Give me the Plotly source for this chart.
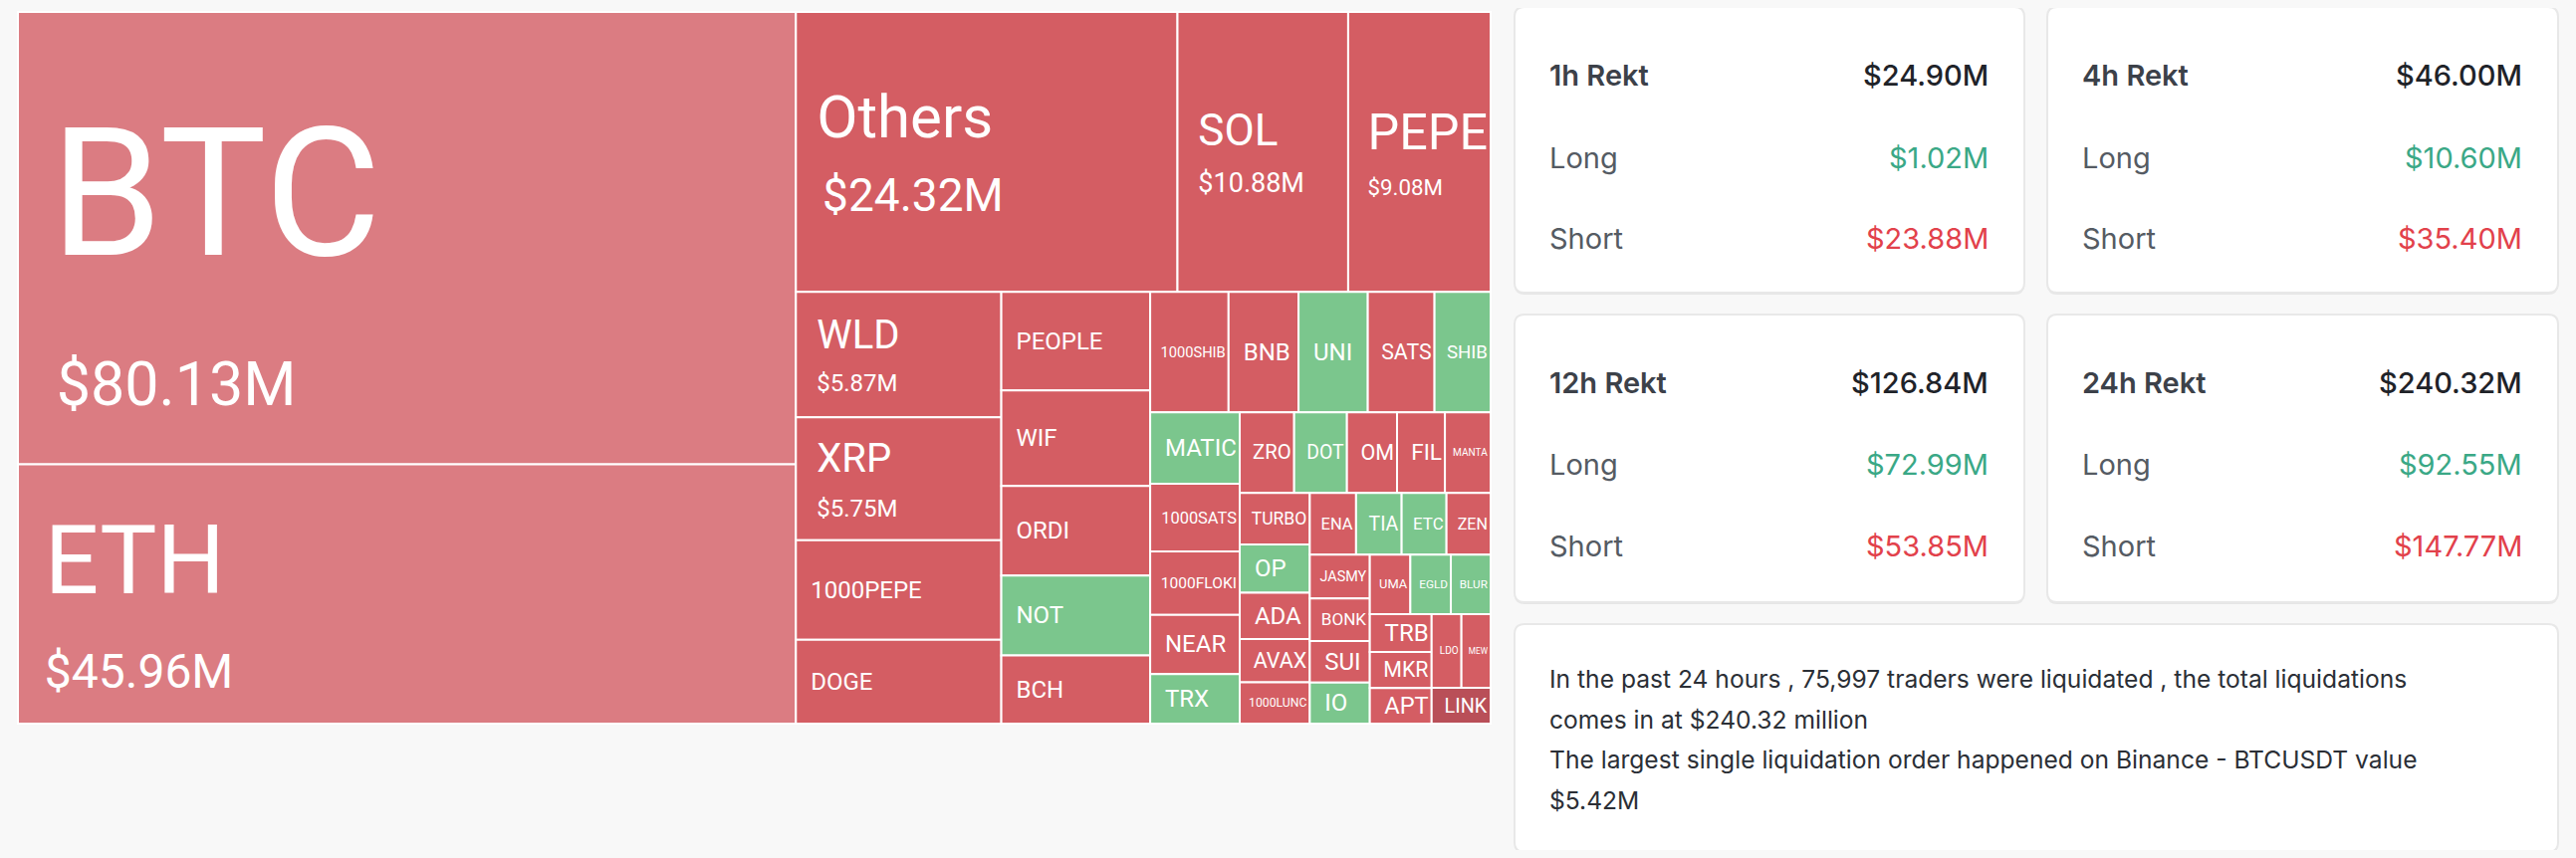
import plotly.graph_objects as go

W, H = 2587, 862
OFF = 8  # default page body margin
FW, FH = W - 2 * OFF, H - 2 * OFF

# ---------------- data ----------------
symbols = [
    "BTC", "ETH", "Others", "SOL", "PEPE", "WLD", "XRP", "1000PEPE", "DOGE",
    "PEOPLE", "WIF", "ORDI", "NOT", "BCH",
    "1000SHIB", "BNB", "UNI", "SATS", "SHIB",
    "MATIC", "1000SATS", "1000FLOKI", "NEAR", "TRX",
    "ZRO", "DOT", "OM", "FIL", "MANTA",
    "TURBO", "OP", "ADA", "AVAX", "1000LUNC",
    "ENA", "TIA", "ETC", "ZEN",
    "JASMY", "BONK", "SUI", "IO",
    "UMA", "EGLD", "BLUR",
    "TRB", "MKR", "APT",
    "LDO", "MEW", "LINK",
]
liq_values = [
    80.13, 45.96, 24.32, 10.88, 9.08, 5.87, 5.75, 4.66, 3.92,
    3.34, 3.24, 3.04, 2.71, 2.31,
    2.15, 1.92, 1.90, 1.83, 1.54,
    1.46, 1.38, 1.29, 1.21, 1.01,
    1.00, 0.97, 0.92, 0.88, 0.84,
    0.82, 0.77, 0.74, 0.69, 0.66,
    0.65, 0.64, 0.63, 0.62,
    0.60, 0.58, 0.57, 0.56,
    0.55, 0.55, 0.54,
    0.53, 0.51, 0.50,
    0.50, 0.49, 0.48,
]
tones = [
    "light", "light", "short", "short", "short", "short", "short", "short", "short",
    "short", "short", "short", "long", "short",
    "short", "short", "long", "short", "long",
    "long", "short", "short", "short", "long",
    "short", "long", "short", "short", "short",
    "short", "long", "short", "short", "short",
    "short", "long", "long", "short",
    "short", "short", "short", "long",
    "short", "long", "long",
    "short", "short", "short",
    "short", "short", "deep",
]

periods = ["1h", "4h", "12h", "24h"]
rekt_total = [24.90, 46.00, 126.84, 240.32]
rekt_long = [1.02, 10.60, 72.99, 92.55]
rekt_short = [23.88, 35.40, 53.85, 147.77]

traders_24h = 75997
largest_exchange = "Binance"
largest_pair = "BTCUSDT"
largest_value = 5.42

# ---------------- styles ----------------
TONE_COLORS = {"light": "#db7c82", "short": "#d45d63", "long": "#7bc68d", "deep": "#b94f58"}
# name font px, value font px, base (line spacing) px, left pad px, top strut px
BIG_STYLE = {
    "BTC": (180, 61, 116, 30, 214),
    "ETH": (96, 48, 73, 22, 113),
    "Others": (60, 46, 57, 18, 0),
    "SOL": (44, 27, 36, 16, 0),
    "PEPE": (54, 24, 38, 16, 0),
    "WLD": (40, 24, 33, 16, 0),
    "XRP": (40, 24, 34, 16, 0),
}
SMALL_SIZE = 24
SMALL_PAD = 14
TM_FONT = "Roboto, 'DejaVu Sans', sans-serif"
CARD_FONT = "Inter, 'Noto Sans', sans-serif"
BG = "#f8f8f8"


def fx(x):
    return (x - OFF) / FW


def fy(y):
    return 1 - (y - OFF) / FH


def pad_span(px):
    n = max(1, round(px / 6))
    return "<span style='font-size:24px'>" + "\u00a0" * n + "</span>"


texts, base_sizes = [], []
for sym, val in zip(symbols, liq_values):
    if sym in BIG_STYLE:
        ns, vs, base, pad, strut = BIG_STYLE[sym]
        strut_span = f"<span style='font-size:{strut}px'>\u00a0</span>" if strut else ""
        texts.append(
            f"{pad_span(pad)}<span style='font-size:{ns}px'>{sym}</span>{strut_span}<br>"
            f"{pad_span(pad + 4)}<span style='font-size:{vs}px'>${val:.2f}M</span>"
        )
        base_sizes.append(base)
    else:
        texts.append(f"{pad_span(SMALL_PAD)}{sym}")
        base_sizes.append(SMALL_SIZE)

fig = go.Figure()
fig.add_trace(go.Treemap(
    labels=symbols,
    parents=[""] * len(symbols),
    values=liq_values,
    text=texts,
    textinfo="text",
    textposition="middle left",
    textfont=dict(family=TM_FONT, color="white", size=base_sizes),
    marker=dict(colors=[TONE_COLORS[t] for t in tones],
                line=dict(color="white", width=2),
                pad=dict(t=0, l=0, r=0, b=0)),
    tiling=dict(packing="squarify", squarifyratio=1.618, pad=0),
    sort=False,
    pathbar=dict(visible=False),
    hoverinfo="skip",
    domain=dict(x=[fx(18), fx(1497)], y=[fy(727), fy(12)]),
))


# ---------------- cards ----------------
def rounded(x0, y0, x1, y1, r):
    rx, ry = r / FW, r / FH
    X0, X1, Y0, Y1 = fx(x0), fx(x1), fy(y0), fy(y1)
    return (f"M {X0 + rx},{Y0} L {X1 - rx},{Y0} Q {X1},{Y0} {X1},{Y0 - ry} "
            f"L {X1},{Y1 + ry} Q {X1},{Y1} {X1 - rx},{Y1} L {X0 + rx},{Y1} "
            f"Q {X0},{Y1} {X0},{Y1 + ry} L {X0},{Y0 - ry} Q {X0},{Y0} {X0 + rx},{Y0} Z")


card_boxes = [(1521, 7, 2033, 294), (2056, 7, 2569, 294),
              (1521, 316, 2033, 605), (2056, 316, 2569, 605)]
text_box = (1521, 627, 2569, 856)

shapes = []
for (x0, y0, x1, y1) in card_boxes + [text_box]:
    shapes.append(dict(type="path", path=rounded(x0, y0 + 2, x1, y1 + 2, 10), xref="paper", yref="paper",
                       fillcolor="#e6e6e6", line=dict(width=0), layer="below"))
    shapes.append(dict(type="path", path=rounded(x0, y0, x1, y1, 10), xref="paper", yref="paper",
                       fillcolor="white", line=dict(color="#e8e8e8", width=2), layer="below"))

annotations = []
TITLE_C, LABEL_C, TOTAL_C, LONG_C, SHORT_C = "#3c4149", "#555b63", "#1f2329", "#3aa886", "#e2414b"
row_off = [68, 151, 232]
for i, p in enumerate(periods):
    x0, y0, x1, y1 = card_boxes[i]
    rows = [
        (f"{p} Rekt", TITLE_C, 600, f"${rekt_total[i]:.2f}M", TOTAL_C, 500),
        ("Long", LABEL_C, 400, f"${rekt_long[i]:.2f}M", LONG_C, 400),
        ("Short", LABEL_C, 400, f"${rekt_short[i]:.2f}M", SHORT_C, 400),
    ]
    for (lab, lc, lw, val, vc, vw), off in zip(rows, row_off):
        annotations.append(dict(x=fx(x0 + 33), y=fy(y0 + off), xref="paper", yref="paper",
                                text=lab, showarrow=False, xanchor="left", yanchor="middle",
                                font=dict(family=CARD_FONT, size=29, color=lc, weight=lw)))
        annotations.append(dict(x=fx(x1 - 34), y=fy(y0 + off), xref="paper", yref="paper",
                                text=val, showarrow=False, xanchor="right", yanchor="middle",
                                font=dict(family=CARD_FONT, size=29, color=vc, weight=vw)))

para_lines = [
    f"In the past 24 hours , {traders_24h:,} traders were liquidated , the total liquidations",
    f"comes in at ${rekt_total[-1]:.2f} million",
    f"The largest single liquidation order happened on {largest_exchange} - {largest_pair} value",
    f"${largest_value:.2f}M",
]
for k, line in enumerate(para_lines):
    annotations.append(dict(x=fx(text_box[0] + 33), y=fy(682 + 40.7 * k), xref="paper", yref="paper",
                            text=line, showarrow=False, xanchor="left", yanchor="middle",
                            font=dict(family=CARD_FONT, size=24.6, color="#2b2f36")))

fig.update_layout(
    width=FW, height=FH,
    margin=dict(l=0, r=0, t=0, b=0),
    paper_bgcolor=BG, plot_bgcolor=BG,
    shapes=shapes, annotations=annotations,
    showlegend=False,
)

fig.write_html("out.html", post_script=f"document.body.style.backgroundColor='{BG}';")
